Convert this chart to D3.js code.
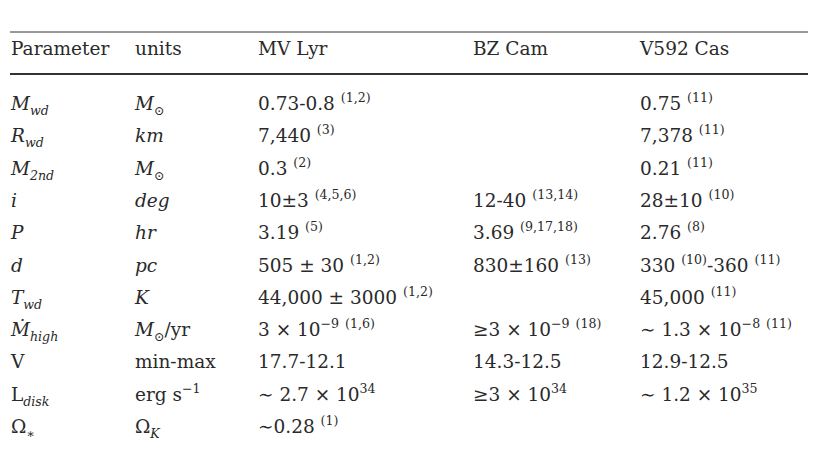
<!DOCTYPE html>
<html><head><meta charset="utf-8">
<script src="https://cdn.jsdelivr.net/npm/d3@7"></script>
<style>body{margin:0;background:#fff}</style>
</head><body>
<svg id="c" width="820" height="453"></svg>
<script>
const headers = ["Parameter","units","MV Lyr","BZ Cam","V592 Cas"];
const params = ["$M$_{$wd$}","$R$_{$wd$}","$M$_{$2nd$}","$i$","$P$","$d$","$T$_{$wd$}","$Ṁ$_{$high$}","V","L_{$disk$}","Ω_{∗}"];
const units = ["$M$_{⊙}","$km$","$M$_{⊙}","$deg$","$hr$","$pc$","$K$","$M$_{⊙}/yr","min-max","erg s^{−1}","Ω_{$K$}"];
const mvLyr = ["0.73-0.8 ^{(1,2)}","7,440 ^{(3)}","0.3 ^{(2)}","10±3 ^{(4,5,6)}","3.19 ^{(5)}","505 ± 30 ^{(1,2)}","44,000 ± 3000 ^{(1,2)}","3 × 10^{−9} ^{(1,6)}","17.7-12.1","∼ 2.7 × 10^{34}","∼0.28 ^{(1)}"];
const bzCam = ["","","","12-40 ^{(13,14)}","3.69 ^{(9,17,18)}","830±160 ^{(13)}","","≥3 × 10^{−9} ^{(18)}","14.3-12.5","≥3 × 10^{34}",""];
const v592Cas = ["0.75 ^{(11)}","7,378 ^{(11)}","0.21 ^{(11)}","28±10 ^{(10)}","2.76 ^{(8)}","330 ^{(10)}-360 ^{(11)}","45,000 ^{(11)}","∼ 1.3 × 10^{−8} ^{(11)}","12.9-12.5","∼ 1.2 × 10^{35}",""];

const svg = d3.select("#c");
const cols = [params, units, mvLyr, bzCam, v592Cas];
const x = d3.scaleOrdinal().domain(d3.range(5)).range([11,135,258,473,640]);
const y = d3.scaleLinear().domain([0,10]).range([110,433]);
const FS = 18.5;
const g = svg.append("g").attr("font-family","'DejaVu Serif',serif").attr("font-size",FS).attr("fill","#2a2a2a");

function parse(s){
  const out=[]; let italic=false; let i=0; let buf=""; let shift=0;
  const push=()=>{ if(buf){out.push({t:buf,italic,shift}); buf="";} };
  while(i<s.length){
    const ch=s[i];
    if(ch==='$'){push(); italic=!italic; i++; continue;}
    if((ch==='_'||ch==='^') && s[i+1]==='{'){ push(); shift = ch==='_'? 1 : -1; i+=2; continue; }
    if(ch==='}' && shift!==0){push(); shift=0; i++; continue;}
    buf+=ch; i++;
  }
  push(); return out;
}
function draw(s, cx, cy){
  const t=g.append("text").attr("x",cx).attr("y",cy);
  let cur=0;
  parse(s).forEach(seg=>{
    const target = seg.shift===1? 5 : seg.shift===-1? -8 : 0;
    t.append("tspan").attr("dy",target-cur)
      .attr("font-style",seg.italic?"italic":"normal")
      .attr("font-size",seg.shift? FS*0.68 : FS)
      .text(seg.t);
    cur=target;
  });
}
headers.forEach((h,i)=>draw(h,x(i),55));
cols.forEach((col,ci)=>col.forEach((v,ri)=>{ if(v) draw(v,x(ci),y(ri)); }));
svg.append("line").attr("x1",10).attr("x2",808).attr("y1",32).attr("y2",32).attr("stroke","#333").attr("stroke-width",1);
svg.append("line").attr("x1",10).attr("x2",808).attr("y1",74).attr("y2",74).attr("stroke","#333").attr("stroke-width",2);
</script>
</body></html>
